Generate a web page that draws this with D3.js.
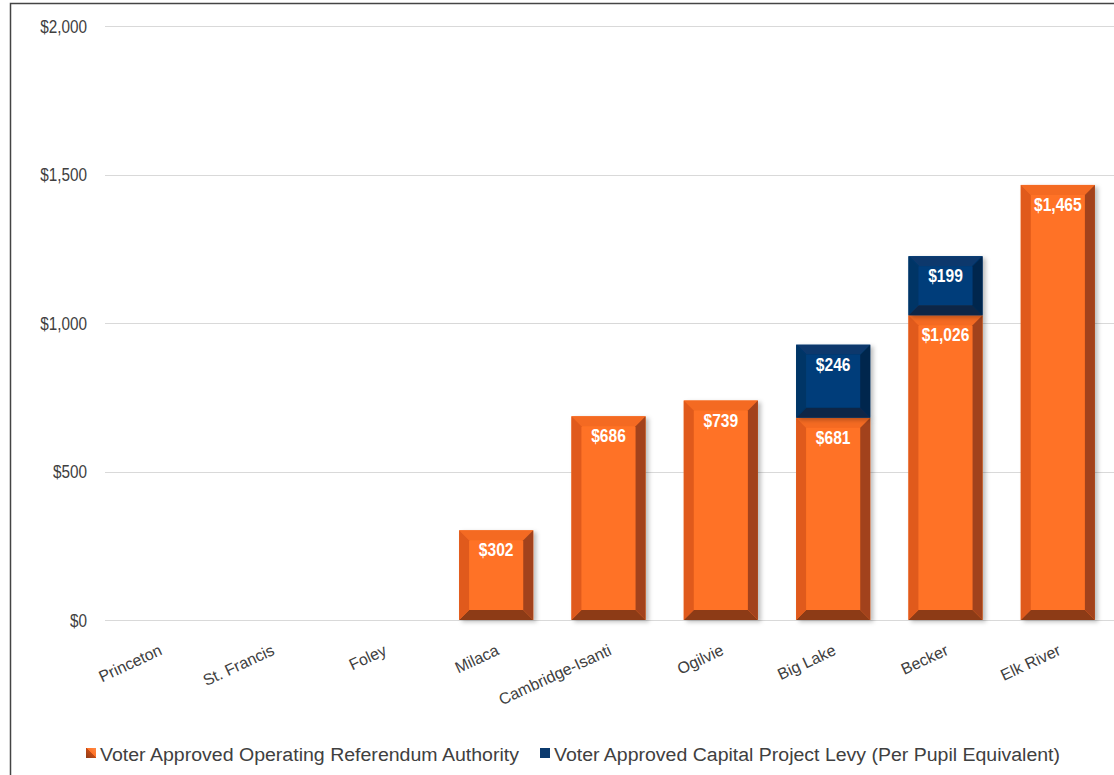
<!DOCTYPE html>
<html>
<head>
<meta charset="utf-8">
<script src="https://cdn.jsdelivr.net/npm/d3@7"></script>
<style>
  html, body { margin: 0; padding: 0; background: #fff; }
  svg { display: block; }
</style>
</head>
<body>
<svg id="chart" width="1114" height="775"></svg>
<script>
// District names along the x axis
const categories = ["Princeton", "St. Francis", "Foley", "Milaca", "Cambridge-Isanti", "Ogilvie", "Big Lake", "Becker", "Elk River"];
// Per-pupil dollars, voter approved operating referendum authority
const operating = [0, 0, 0, 302, 686, 739, 681, 1026, 1465];
// Per-pupil equivalent dollars, voter approved capital project levy
const capital = [0, 0, 0, 0, 0, 0, 246, 199, 0];
// Y axis ticks
const yTicks = [0, 500, 1000, 1500, 2000];
const seriesNames = ["Voter Approved Operating Referendum Authority", "Voter Approved Capital Project Levy (Per Pupil Equivalent)"];

const W = 1114, H = 775;
const FONT = "'Liberation Sans', Arial, sans-serif";
const svg = d3.select("#chart");

// Condense text horizontally by a factor of its natural width
function squeeze(sel, factor) {
  sel.each(function () {
    const n = this.getComputedTextLength();
    d3.select(this).attr("textLength", n * factor).attr("lengthAdjust", "spacingAndGlyphs");
  });
}

const palettes = [
  { face: "#ff7226", top: "#f46a22", left: "#e05a1b", right: "#a2431a", bottom: "#8d3b17" },
  { face: "#063e7a", top: "#07376c", left: "#053466", right: "#03264d", bottom: "#0b2847" }
];

const defs = svg.append("defs");
const shadow = defs.append("filter").attr("id", "barShadow")
  .attr("x", "-20%").attr("y", "-10%").attr("width", "150%").attr("height", "130%");
shadow.append("feDropShadow").attr("dx", 3).attr("dy", 2).attr("stdDeviation", 2)
  .attr("flood-color", "#000").attr("flood-opacity", 0.25);

const grad = defs.append("linearGradient").attr("id", "swatchOrange")
  .attr("x1", "0%").attr("y1", "100%").attr("x2", "100%").attr("y2", "0%");
grad.append("stop").attr("offset", "0%").attr("stop-color", "#8d3b17");
grad.append("stop").attr("offset", "50%").attr("stop-color", "#c24a15");
grad.append("stop").attr("offset", "55%").attr("stop-color", "#ff7226");
grad.append("stop").attr("offset", "100%").attr("stop-color", "#ff8a45");

// Outer frame
svg.append("path")
  .attr("d", `M10.5,${H + 2} L10.5,3.5 L${W + 2},3.5`)
  .attr("fill", "none").attr("stroke", "#444").attr("stroke-width", 1.5);

const x = d3.scaleBand().domain(categories).range([103, 1114]).paddingInner(0.34).paddingOuter(0.17);
const y = d3.scaleLinear().domain([0, 2000]).range([620, 26]);

// Gridlines
svg.append("g").selectAll("line").data(yTicks).join("line")
  .attr("x1", 105).attr("x2", 1114)
  .attr("y1", d => Math.round(y(d)) + 0.5).attr("y2", d => Math.round(y(d)) + 0.5)
  .attr("stroke", "#d9d9d9").attr("stroke-width", 1);

// Y axis labels
const yAxis = d3.axisLeft(y).tickValues(yTicks).tickSize(0).tickPadding(0)
  .tickFormat(d => "$" + d3.format(",")(d));
const yg = svg.append("g").attr("transform", "translate(87,0)").call(yAxis);
yg.select(".domain").remove();
yg.attr("font-size", null).attr("font-family", null);
yg.selectAll("text").attr("font-family", FONT)
  .attr("font-size", 18).attr("fill", "#404040").attr("dy", "0.36em")
  .call(squeeze, 0.85);

// Stack segments
const segments = [];
categories.forEach((c, i) => {
  const parts = [operating[i], capital[i]];
  let base = 0;
  parts.forEach((v, s) => {
    if (v > 0) segments.push({ cat: c, s, v, y0: base, y1: base + v });
    base += v;
  });
});

function bevelBar(g, x0, x1, yt, yb, pal) {
  const b = Math.min(10, (yb - yt) / 2, (x1 - x0) / 2);
  const poly = pts => pts.map(p => p.join(",")).join(" ");
  g.append("rect").attr("x", x0).attr("y", yt).attr("width", x1 - x0).attr("height", yb - yt)
    .attr("fill", pal.face);
  g.append("polygon").attr("points", poly([[x0, yt], [x1, yt], [x1 - b, yt + b], [x0 + b, yt + b]])).attr("fill", pal.top);
  g.append("polygon").attr("points", poly([[x0, yb], [x1, yb], [x1 - b, yb - b], [x0 + b, yb - b]])).attr("fill", pal.bottom);
  g.append("polygon").attr("points", poly([[x0, yt], [x0 + b, yt + b], [x0 + b, yb - b], [x0, yb]])).attr("fill", pal.left);
  g.append("polygon").attr("points", poly([[x1, yt], [x1 - b, yt + b], [x1 - b, yb - b], [x1, yb]])).attr("fill", pal.right);
}

const barsG = svg.append("g");
segments.forEach(d => {
  const g = barsG.append("g").attr("filter", "url(#barShadow)");
  const x0 = x(d.cat), x1 = x(d.cat) + x.bandwidth();
  bevelBar(g, x0, x1, y(d.y1), y(d.y0), palettes[d.s]);
});

// Value labels
svg.append("g").selectAll("text").data(segments).join("text")
  .attr("x", d => x(d.cat) + x.bandwidth() / 2)
  .attr("y", d => y(d.y1) + 26)
  .attr("text-anchor", "middle")
  .attr("font-family", FONT)
  .attr("font-weight", "bold").attr("font-size", 19).attr("fill", "#fff")
  .text(d => "$" + d3.format(",")(d.v))
  .call(squeeze, 0.82);

// Category labels
svg.append("g").selectAll("text").data(categories).join("text")
  .attr("transform", d => `translate(${x(d) + x.bandwidth() / 2 + 4},654) rotate(-25)`)
  .attr("text-anchor", "end")
  .attr("font-family", FONT)
  .attr("font-size", 16).attr("fill", "#404040")
  .text(d => d);

// Legend
const legend = [
  { name: seriesNames[0], sx: 86, tx: 100, len: 419, fill: "url(#swatchOrange)" },
  { name: seriesNames[1], sx: 540, tx: 554, len: 506, fill: "#0b3a6e" }
];
const lg = svg.append("g");
legend.forEach(l => {
  lg.append("rect").attr("x", l.sx).attr("y", 748).attr("width", 10).attr("height", 10).attr("fill", l.fill);
  lg.append("text").attr("x", l.tx).attr("y", 761)
    .attr("font-family", FONT)
    .attr("font-size", 18).attr("fill", "#404040")
    .attr("textLength", l.len).attr("lengthAdjust", "spacingAndGlyphs")
    .text(l.name);
});
</script>
</body>
</html>
